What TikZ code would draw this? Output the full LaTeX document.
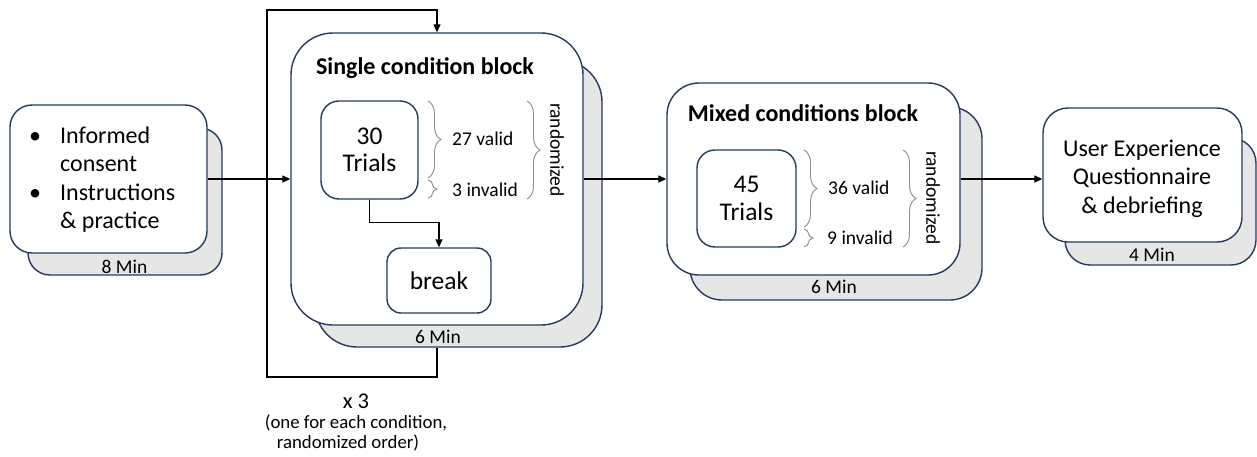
\documentclass[tikz,border=0pt]{standalone}
\usepackage{fontspec}
\setmainfont{Carlito}
\usetikzlibrary{arrows.meta,decorations.pathreplacing,calc}
\definecolor{navy}{RGB}{38,58,94}
\definecolor{shade}{RGB}{231,230,230}
\definecolor{bracegray}{RGB}{140,140,140}
\newcommand\myBig{\fontsize{24}{28.5}\selectfont}
\newcommand\myTrial{\fontsize{25.5}{27.5}\selectfont}
\newcommand\myTitle{\fontsize{24}{28}\selectfont\bfseries}
\newcommand\mySmall{\fontsize{19.5}{22}\selectfont}
\newcommand\myNote{\fontsize{18.8}{21}\selectfont}
\newcommand\myX{\fontsize{22.5}{26}\selectfont}
\begin{document}
\begin{tikzpicture}[x=1pt,y=-1pt,
  backbox/.style={draw=navy, line width=1.4pt, fill=shade, inner sep=0pt},
  frontbox/.style={draw=navy, line width=1.4pt, fill=white, inner sep=0pt},
  trialbox/.style={draw=navy, line width=1.4pt, fill=white, inner sep=0pt, rounded corners=18pt, align=center, font=\myTrial},
  txt/.style={inner sep=0pt},
  conn/.style={line width=1.3pt, -{Triangle[length=8pt,width=7pt]}},
  bracestyle/.style={draw=bracegray, line width=0.9pt, decorate, decoration={brace, amplitude=#1}},
  bracestyle/.default=13pt]
\useasboundingbox (0,0) rectangle (1257,457);

% ---------- left box
\node[backbox, minimum width=194pt, minimum height=147pt, rounded corners=22pt] (lback) at (125,201.5) {};
\node[frontbox, minimum width=197pt, minimum height=148pt, rounded corners=22pt] (left) at (108.5,179) {};
\node[txt, anchor=west, align=left, font=\myBig] (lefttext) at (29,179.5)
  {\makebox[31pt][l]{\textbullet}Informed\\\hspace*{31pt}consent\\\makebox[31pt][l]{\textbullet}Instructions\\\hspace*{31pt}\& practice};
\node[txt, font=\mySmall] (ltime) at (124.5,267) {8 Min};

% ---------- single condition block
\node[backbox, minimum width=287pt, minimum height=287pt, rounded corners=42pt] (sback) at (458.5,203.5) {};
\node[frontbox, minimum width=292pt, minimum height=292pt, rounded corners=42pt] (single) at (437,179) {};
\node[txt, font=\myTitle] (stitle) at (425,68) {Single condition block};
\node[trialbox, minimum width=97pt, minimum height=98pt] (trials) at (369.5,150) {30\\Trials};
\node[trialbox, minimum width=104pt, minimum height=65pt, rounded corners=14pt] (brk) at (439,280.5) {break};
\draw[bracestyle] (428,101) -- (428,178);
\draw[bracestyle=9pt] (428,180) -- (428,198);
\draw[bracestyle] (527,101) -- (527,199);
\node[txt, anchor=west, font=\mySmall] (v1) at (452,139) {27 valid};
\node[txt, anchor=west, font=\mySmall] (i1) at (452,190) {3 invalid};
\node[txt, rotate=-90, font=\mySmall] (r1) at (557,150) {randomized};
\node[txt, font=\mySmall] (stime) at (438,337) {6 Min};

% ---------- mixed conditions block
\node[backbox, minimum width=292pt, minimum height=193pt, rounded corners=32pt] (mback) at (836,203.5) {};
\node[frontbox, minimum width=293pt, minimum height=192pt, rounded corners=32pt] (mixed) at (813.5,179) {};
\node[txt, font=\myTitle] (mtitle) at (803,113) {Mixed conditions block};
\node[trialbox, minimum width=99pt, minimum height=97pt] (trials2) at (746.5,198.5) {45\\Trials};
\draw[bracestyle] (804,150) -- (804,227);
\draw[bracestyle=9pt] (804,229) -- (804,247);
\draw[bracestyle] (903,150) -- (903,247);
\node[txt, anchor=west, font=\mySmall] (v2) at (828,188) {36 valid};
\node[txt, anchor=west, font=\mySmall] (i2) at (827,238) {9 invalid};
\node[txt, rotate=-90, font=\mySmall] (r2) at (933,198) {randomized};
\node[txt, font=\mySmall] (mtime) at (834,287) {6 Min};

% ---------- right box
\node[backbox, minimum width=191pt, minimum height=127pt, rounded corners=25pt] (rback) at (1160.5,201.5) {};
\node[frontbox, minimum width=199pt, minimum height=134pt, rounded corners=25pt] (right) at (1142.5,175) {};
\node[txt, align=center, font=\myBig] (rtext) at (1142,178.5) {User Experience\\Questionnaire\\\& debriefing};
\node[txt, font=\mySmall] (rtime) at (1152,255) {4 Min};

% ---------- connectors
\draw[conn] (left.east) -- (single.west);
\draw[conn] (single.east) -- (mixed.west);
\draw[conn] (mixed.east) -- (mixed.east -| right.west);
\draw[conn] (trials.south) -- ++(0,23) -| (brk.north);
\coordinate (lbl) at (267,377);
\coordinate (ltl) at (267,10);
\draw[conn] (single.north |- sback.south) -- (single.north |- lbl) -- (lbl) -- (ltl) -- (single.north |- ltl) -- (single.north);

% ---------- loop note
\node[txt, font=\myX] (x3) at (356,401) {x 3};
\node[txt, font=\myNote] (n1) at (356,423) {(one for each condition,};
\node[txt, font=\myNote] (n2) at (348,443) {randomized order)};
\end{tikzpicture}
\end{document}
